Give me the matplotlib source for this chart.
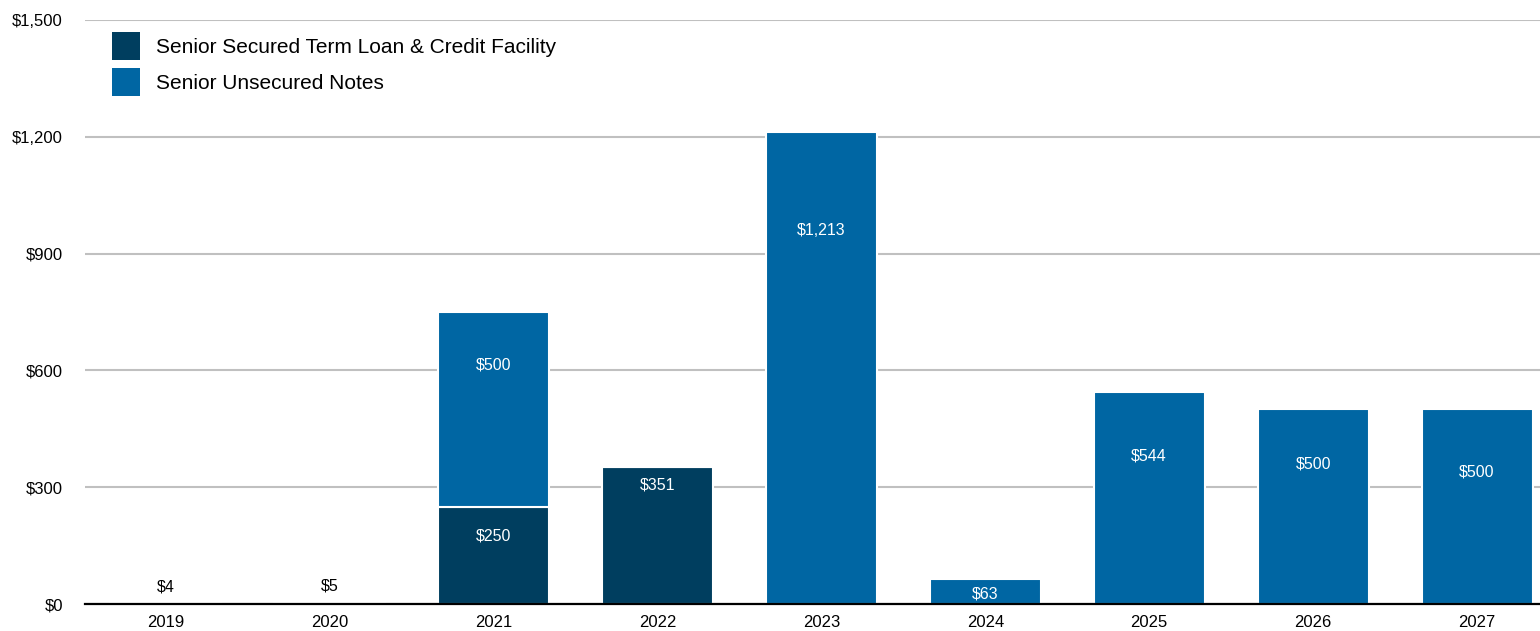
"""Debt maturity profile: stacked bars of secured vs unsecured debt by year."""
import matplotlib

matplotlib.use("Agg")
import matplotlib.pyplot as plt
from matplotlib.patches import Patch

plt.rcParams["font.family"] = ["Liberation Sans", "DejaVu Sans"]

years = ["2019", "2020", "2021", "2022", "2023", "2024", "2025", "2026", "2027"]
secured = [4, 5, 250, 351, 0, 0, 0, 0, 0]
unsecured = [0, 0, 500, 0, 1213, 63, 544, 500, 500]

# where each in-bar label sits, as a fraction of its segment height
secured_label_frac = [0, 0, 0.70, 0.87, 0, 0, 0, 0, 0]
unsecured_label_frac = [0, 0, 0.73, 0, 0.79, 0.41, 0.70, 0.72, 0.68]

DARK = "#003E5F"
BLUE = "#0066A3"

W, H = 1540, 631
fig = plt.figure(figsize=(W / 100, H / 100), dpi=100)
ax = fig.add_axes([85 / W, 27 / H, (W - 85) / W, 584 / H])

x = range(len(years))
bw = 0.677
ax.bar(x, secured, width=bw, color=DARK, edgecolor="white", linewidth=1.5, zorder=3)
ax.bar(x, unsecured, width=bw, bottom=secured, color=BLUE,
       edgecolor="white", linewidth=1.5, zorder=3)

for i in x:
    s, u = secured[i], unsecured[i]
    if 0 < s < 40:
        ax.annotate(f"${s:,}", (i, s), xytext=(0, 6), textcoords="offset points",
                    ha="center", va="bottom", fontsize=11.5, color="black", zorder=4)
    elif s:
        ax.text(i, s * secured_label_frac[i], f"${s:,}", ha="center", va="center",
                fontsize=11.5, color="white", zorder=4)
    if u:
        ax.text(i, s + u * unsecured_label_frac[i], f"${u:,}", ha="center",
                va="center", fontsize=11.5, color="white", zorder=4)

ax.set_xlim(-0.492, 8.384)
ax.set_ylim(0, 1500)
ax.set_yticks(range(0, 1501, 300))
ax.set_yticklabels([f"${v:,}" for v in range(0, 1501, 300)])
ax.set_xticks(list(x))
ax.set_xticklabels(years)
ax.tick_params(axis="y", length=0, pad=16, labelsize=12)
ax.tick_params(axis="x", length=0, pad=8, labelsize=12)

ax.grid(axis="y", color="#C0C0C0", linewidth=1.5, zorder=0)
ax.set_axisbelow(True)
for side in ("top", "right", "left"):
    ax.spines[side].set_visible(False)
ax.spines["bottom"].set_linewidth(1.6)
ax.spines["bottom"].set_color("black")
ax.spines["bottom"].set_zorder(5)

handles = [Patch(facecolor=DARK, label="Senior Secured Term Loan & Credit Facility"),
           Patch(facecolor=BLUE, label="Senior Unsecured Notes")]
fig.legend(handles=handles, loc="upper left", bbox_to_anchor=(112 / W, 1 - 32 / H),
           frameon=False, fontsize=15, handlelength=1.35, handleheight=1.69,
           handletextpad=0.77, labelspacing=0.39, borderpad=0, borderaxespad=0)

fig.savefig("out.png", dpi=100, facecolor="white")
